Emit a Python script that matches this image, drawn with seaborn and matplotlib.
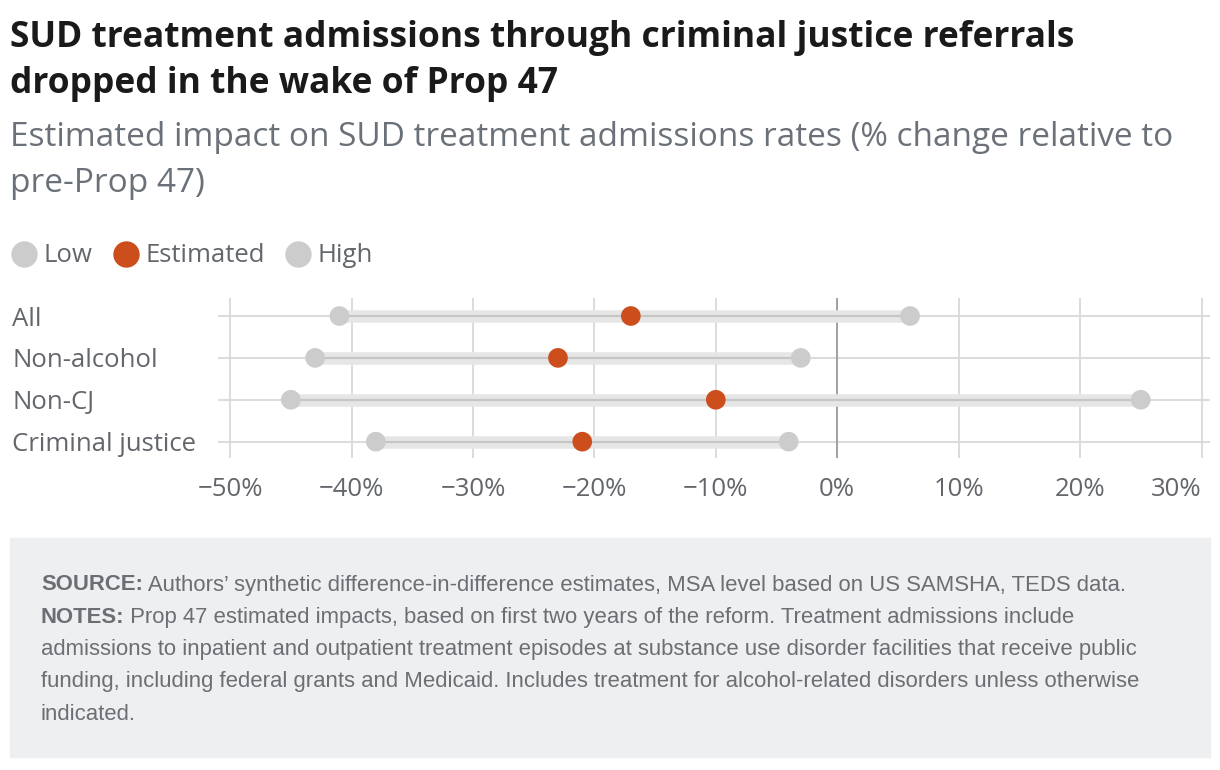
import numpy as np
import pandas as pd
import matplotlib
matplotlib.use("Agg")
import matplotlib.pyplot as plt
import seaborn as sns
from matplotlib.lines import Line2D
from matplotlib.patches import Rectangle

groups = ["All", "Non-alcohol", "Non-CJ", "Criminal justice"]
low = [-41, -43, -45, -38]
estimated = [-17, -23, -10, -21]
high = [6, -3, 25, -4]
xticks = [-50, -40, -30, -20, -10, 0, 10, 20, 30]

orange = "#cb4e1c"
ptgray = "#cccccc"
txtgray = "#63666b"

df = pd.DataFrame({"group": groups * 3,
                   "value": low + estimated + high,
                   "kind": ["Low"] * 4 + ["Estimated"] * 4 + ["High"] * 4})

sns.set_style("white")
plt.rcParams["font.family"] = ["Open Sans", "DejaVu Sans"]

W, H = 1220, 770
fig = plt.figure(figsize=(12.2, 7.7), dpi=100)

def fx(px):
    return px / W

def fy(py):
    return 1 - py / H

ax = fig.add_axes([fx(218), fy(458), fx(1210) - fx(218), fy(298) - fy(458)])

ypos = {g: i for i, g in enumerate(groups)}
df["y"] = df["group"].map(ypos)

# row lines, grid and range bands
for i, g in enumerate(groups):
    ax.axhline(i, color="#dcdcdc", lw=1.5, zorder=0)
for t in xticks:
    ax.axvline(t, color="#999999" if t == 0 else "#d9d9d9", lw=1.3, zorder=0.5)
ax.hlines(range(len(groups)), low, high, color="#e6e6e6", lw=9, zorder=1)
ax.hlines(range(len(groups)), low, high, color="#c6c6c6", lw=1.6, zorder=1.5)

sns.scatterplot(data=df, x="value", y="y", hue="kind",
                palette={"Low": ptgray, "Estimated": orange, "High": ptgray},
                s=200, linewidth=0, ax=ax, zorder=3, legend=False)

ax.set_xlim(-51.0, 30.7)
ax.set_ylim(3.39, -0.43)
ax.set_xlabel("")
ax.set_ylabel("")
for s in ax.spines.values():
    s.set_visible(False)
ax.set_xticks(xticks)
labs = [("\u2212" if t < 0 else "") + f"{abs(t)}%" for t in xticks]
ax.set_xticklabels(labs, fontsize=18.5, color=txtgray)
ax.xaxis.get_majorticklabels()[-1].set_horizontalalignment("right")
ax.set_yticks(range(len(groups)))
ax.set_yticklabels(groups, fontsize=18.5, color=txtgray, ha="left")
ax.tick_params(axis="y", length=0, pad=148)
ax.tick_params(axis="x", length=0, pad=14)
ax.grid(False)

# legend
handles = [Line2D([], [], marker="o", ls="", ms=19, mfc=c, mec="none")
           for c in (ptgray, orange, ptgray)]
fig.legend(handles, ["Low", "Estimated", "High"], loc="center left",
           bbox_to_anchor=(fx(0), fy(256)), ncol=3, frameon=False,
           fontsize=18.5, labelcolor=txtgray, handletextpad=0.2,
           columnspacing=0.75, handlelength=1.1, borderaxespad=0)

# title and subtitle
fig.text(fx(10), fy(38), "SUD treatment admissions through criminal justice referrals",
         fontsize=25.5, fontweight="bold", color="#1a1a1a", va="center")
fig.text(fx(10), fy(84), "dropped in the wake of Prop 47",
         fontsize=25.5, fontweight="bold", color="#1a1a1a", va="center")
fig.text(fx(10), fy(138), "Estimated impact on SUD treatment admissions rates (% change relative to",
         fontsize=24, color="#6b7178", va="center")
fig.text(fx(10), fy(184), "pre-Prop 47)", fontsize=24, color="#6b7178", va="center")

# notes box
fig.patches.append(Rectangle((fx(10), fy(757)), fx(1210) - fx(10), fy(538) - fy(757),
                             transform=fig.transFigure, color="#eeeff1", zorder=0))
note_font = ["Liberation Sans", "DejaVu Sans"]
renderer = fig.canvas.get_renderer()
note_lines = [
    ("SOURCE:", " Authors\u2019 synthetic difference-in-difference estimates, MSA level based on US SAMSHA, TEDS data."),
    ("NOTES:", " Prop 47 estimated impacts, based on first two years of the reform. Treatment admissions include"),
    ("", "admissions to inpatient and outpatient treatment episodes at substance use disorder facilities that receive public"),
    ("", "funding, including federal grants and Medicaid. Includes treatment for alcohol-related disorders unless otherwise"),
    ("", "indicated."),
]
for k, (bold, rest) in enumerate(note_lines):
    y = fy(585 + k * 32.3)
    x = fx(41)
    if bold:
        t = fig.text(x, y, bold, fontsize=15.9, fontweight="bold", color="#6b6e73",
                     va="center", family=note_font)
        bb = t.get_window_extent(renderer)
        x = bb.x1 / W
    fig.text(x, y, rest, fontsize=15.9, color="#6b6e73", va="center", family=note_font)

fig.savefig("out.png", dpi=100)
